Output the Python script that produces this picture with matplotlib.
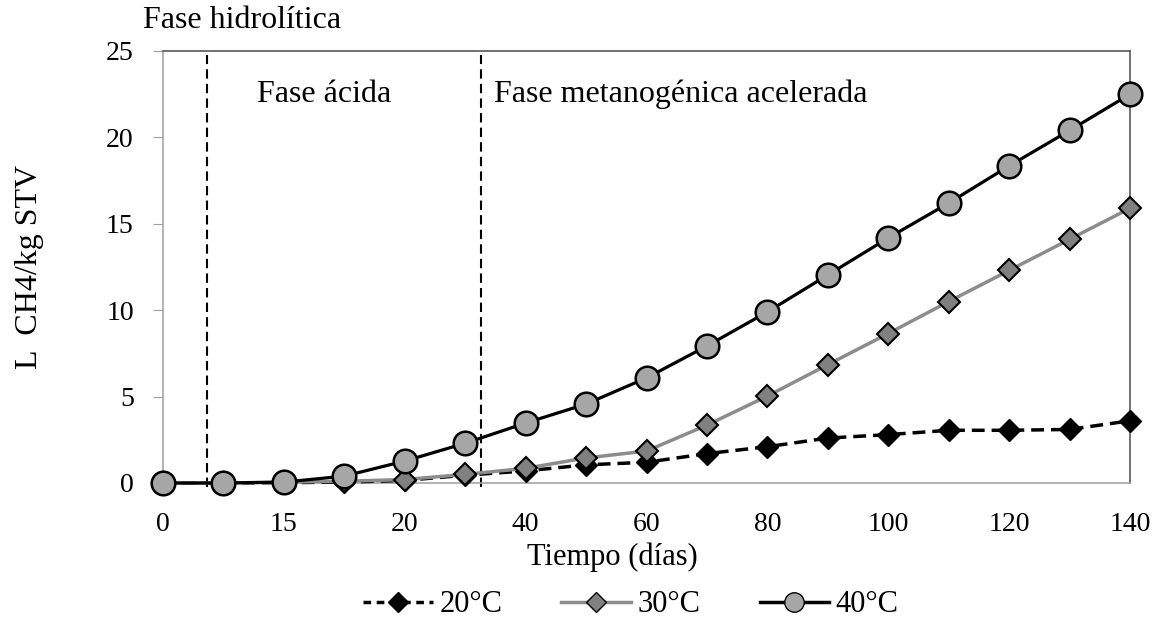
import matplotlib
matplotlib.use("Agg")
import matplotlib.pyplot as plt
from matplotlib.lines import Line2D

plt.rcParams['font.family'] = ['Liberation Serif', 'DejaVu Serif']

x_labels = ["0", "", "15", "", "20", "", "40", "", "60", "", "80", "", "100", "", "120", "", "140"]
s20 = [0, 0, 0.02, 0.05, 0.15, 0.45, 0.7, 1.05, 1.2, 1.7, 2.1, 2.6, 2.8, 3.05, 3.05, 3.1, 3.6]
s30 = [0, 0, 0.05, 0.1, 0.2, 0.5, 0.85, 1.45, 1.85, 3.35, 5.03, 6.85, 8.65, 10.5, 12.3, 14.1, 15.9]
s40 = [0, 0, 0.05, 0.4, 1.27, 2.3, 3.47, 4.57, 6.08, 7.93, 9.9, 12.04, 14.18, 16.2, 18.35, 20.4, 22.5]
phase_bounds = [0.73, 5.26]

W, H = 1157, 621
fig = plt.figure(figsize=(W/100, H/100), dpi=100)
ax = fig.add_axes([163/W, 1-483/H, (1130-163)/W, (483-51)/H])
xs = list(range(len(x_labels)))

ax.plot(xs, s20, color='black', ls=(0, (3.7, 2)), lw=2.5, marker='D', ms=11.5,
        mfc='black', mec='black', zorder=3, clip_on=False)
ax.plot(xs, s30, color='#8c8c8c', lw=2.5, marker='D', ms=11.5,
        mfc='#808080', mec='black', mew=1.5, zorder=4, clip_on=False)
ax.plot(xs, s40, color='black', lw=2.3, marker='o', ms=17,
        mfc='#a6a6a6', mec='black', mew=1.8, zorder=5, clip_on=False)

for b in phase_bounds:
    ax.axvline(b, ymin=-0.01, ymax=0.99, color='black', ls=(0, (4.5, 2.5)), lw=1.5,
               clip_on=False, zorder=2)

ax.set_xlim(0, 16)
ax.set_ylim(0, 25)
ax.set_yticks([0, 5, 10, 15, 20, 25])
ax.set_xticks(xs)
ax.set_xticklabels(x_labels)
ax.tick_params(axis='x', length=0, pad=21, labelsize=20)
ax.tick_params(axis='y', length=7, color='#a0a0a0', pad=14, labelsize=20)

for side in ['left', 'bottom']:
    ax.spines[side].set_color('#a6a6a6')
    ax.spines[side].set_linewidth(1.2)
for side in ['top', 'right']:
    ax.spines[side].set_color('#595959')
    ax.spines[side].set_linewidth(1.2)

ax.set_xlabel('Tiempo (días)', fontsize=22)
ax.xaxis.set_label_coords((612-163)/(1130-163), -(557-483)/(483-51))
ax.xaxis.label.set_va('center')
ax.set_ylabel('L  CH4/kg STV', fontsize=23)
ax.yaxis.set_label_coords(-(163-30)/(1130-163), 0.5)
ax.yaxis.label.set_va('center')

fig.text(143/W, 1-20/H, 'Fase hidrolítica', fontsize=23, ha='left', va='center')
ax.text(2.66, 22.5, 'Fase ácida', fontsize=23, ha='center', va='center')
ax.text(5.48, 22.5, 'Fase metanogénica acelerada', fontsize=23, ha='left', va='center')

handles = [
    Line2D([], [], color='black', ls=(0, (2.2, 1.6)), lw=2.5, marker='D', ms=10, mfc='black', mec='black'),
    Line2D([], [], color='#8c8c8c', lw=2.5, marker='D', ms=10, mfc='#808080', mec='black'),
    Line2D([], [], color='black', lw=2.5, marker='o', ms=14, mfc='#a6a6a6', mec='black'),
]
fig.legend(handles, ['20°C', '30°C', '40°C'], loc='center', bbox_to_anchor=(631/W, 1-605/H),
           ncol=3, frameon=False, fontsize=22, handlelength=2.29, handletextpad=0.2,
           columnspacing=1.93, borderpad=0, borderaxespad=0)

fig.savefig('out.png', dpi=100)
